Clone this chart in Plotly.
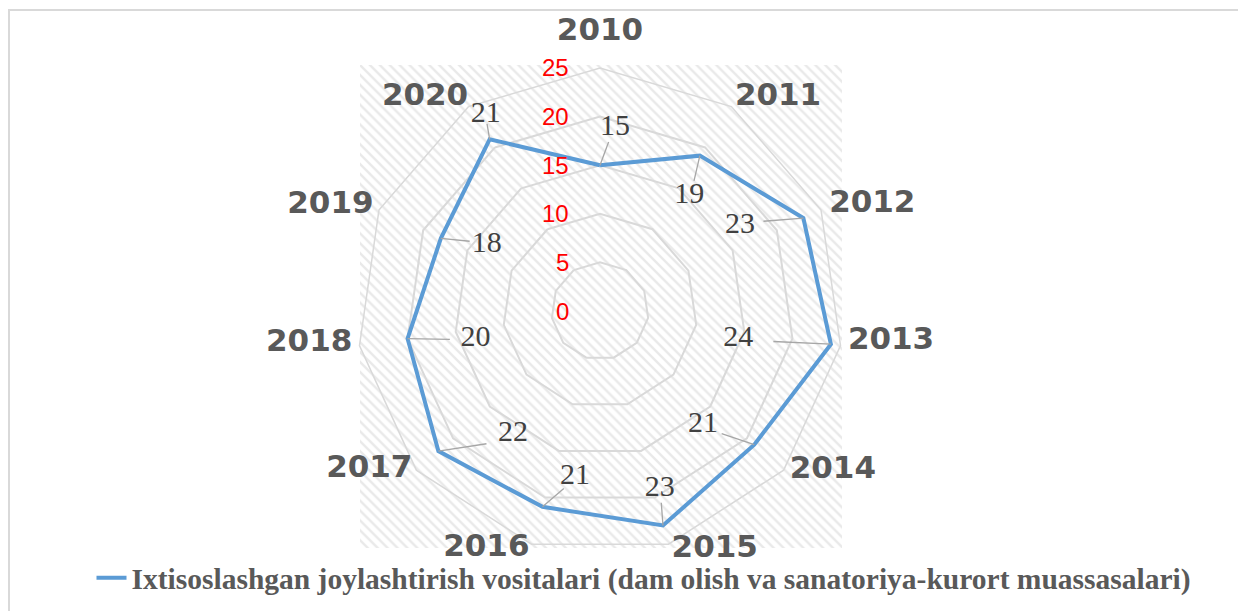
import plotly.graph_objects as go

# ---------------- data ----------------
years = ["2010", "2011", "2012", "2013", "2014", "2015", "2016", "2017", "2018", "2019", "2020"]
values = [15, 19, 23, 24, 21, 23, 21, 22, 20, 18, 21]
series_name = "Ixtisoslashgan joylashtirish vositalari (dam olish va sanatoriya-kurort muassasalari)"
radial_ticks = [0, 5, 10, 15, 20, 25]

# ---------------- style: label placement offsets ----------------
# data labels: radial offset (axis units) and angular offset (degrees)
label_dr = [3.9, -4.0, -6.15, -9.5, -5.2, -3.7, -3.8, -6.5, -6.9, -4.5, 2.4]
label_dtheta = [4.7, 5.0, -6.8, 2.9, 7.0, -2.2, -7.8, -13.8, -4.1, 5.8, 2.6]
leader_frac = 0.62
# category labels: radius (axis units) and angular offset (degrees)
cat_r = [28.7, 28.6, 30.1, 30.1, 29.0, 27.25, 27.1, 28.8, 30.1, 29.8, 28.4]
cat_dtheta = [0, 7.1, 3.1, -2.3, -6.6, -9.3, 9.2, 6.4, 1.9, -3.1, -6.6]
radial_label_gap = 3.0   # axis units left of the vertical axis

# page geometry (browser body margin of 8px offsets the figure)
OX, OY = 8, 8
W, H = 1246 - OX, 611 - OY


def px(x):
    return (x - OX) / W


def py(y):
    return 1 - (y - OY) / H


n = len(years)
step = 360.0 / n
theta = [i * step for i in range(n)]

RMAX = 25
RMAX_OUT = 30.5
cx, cy, R = 600, 311, 243
R_OUT = R * RMAX_OUT / RMAX
polar_domain = dict(x=[px(cx - R), px(cx + R)], y=[py(cy + R), py(cy - R)])
outer_domain = dict(x=[px(cx - R_OUT), px(cx + R_OUT)], y=[py(cy + R_OUT), py(cy - R_OUT)])

fig = go.Figure()

# hatched plot-area background
fig.add_trace(go.Scatter(
    x=[0, 1, 1, 0, 0], y=[0, 0, 1, 1, 0], mode="lines", fill="toself",
    line=dict(width=0), fillcolor="white",
    fillpattern=dict(shape="\\", fgcolor="#d4d4d4", bgcolor="white", size=7, solidity=0.35),
    hoverinfo="skip", showlegend=False, xaxis="x", yaxis="y"))

# main series (category polar -> polygon grid)
fig.add_trace(go.Scatterpolar(
    r=values + [values[0]], theta=years + [years[0]], mode="lines",
    line=dict(color="#5B9BD5", width=4), name=series_name, showlegend=True,
    subplot="polar"))

# leader lines (overlay polar with numeric angles)
lr, lt = [], []
for v, th, dr, dt in zip(values, theta, label_dr, label_dtheta):
    lr += [v, v + dr * leader_frac, None]
    lt += [th, th + dt * leader_frac, None]
fig.add_trace(go.Scatterpolar(r=lr, theta=lt, mode="lines",
                              line=dict(color="#a6a6a6", width=1.3),
                              hoverinfo="skip", showlegend=False, connectgaps=False,
                              subplot="polar2"))

# data labels
fig.add_trace(go.Scatterpolar(
    r=[v + d for v, d in zip(values, label_dr)],
    theta=[t + d for t, d in zip(theta, label_dtheta)],
    mode="text", text=[str(v) for v in values],
    textfont=dict(family="Liberation Serif", size=30, color="#404040"),
    textposition="middle center", hoverinfo="skip", showlegend=False,
    subplot="polar2", cliponaxis=False))

# category labels (on a larger overlay polar with the same scale)
fig.add_trace(go.Scatterpolar(
    r=cat_r, theta=[t + d for t, d in zip(theta, cat_dtheta)],
    mode="text", text=years,
    textfont=dict(family="DejaVu Sans", size=31, color="#595959", weight="bold"),
    textposition="middle center", hoverinfo="skip", showlegend=False,
    subplot="polar3", cliponaxis=False))

hidden_ang = dict(type="linear", rotation=90, direction="clockwise",
                  visible=False, showgrid=False, showline=False, ticks="")

fig.update_layout(
    width=W, height=H,
    margin=dict(l=0, r=0, t=0, b=0),
    paper_bgcolor="white", plot_bgcolor="rgba(0,0,0,0)",
    xaxis=dict(domain=[px(360), px(842)], range=[0, 1], visible=False, fixedrange=True),
    yaxis=dict(domain=[py(548), py(65)], range=[0, 1], visible=False, fixedrange=True),
    xaxis2=dict(domain=polar_domain["x"], range=[-RMAX, RMAX], visible=False, fixedrange=True,
                anchor="y2"),
    yaxis2=dict(domain=polar_domain["y"], range=[-RMAX, RMAX], visible=False, fixedrange=True,
                anchor="x2"),
    polar=dict(
        domain=polar_domain,
        bgcolor="rgba(0,0,0,0)",
        gridshape="linear",
        angularaxis=dict(
            type="category", categoryarray=years, rotation=90, direction="clockwise",
            showgrid=False, showline=True, linecolor="#d9d9d9", linewidth=1.5,
            ticks="", showticklabels=False,
        ),
        radialaxis=dict(
            range=[0, RMAX], tickmode="array", tickvals=radial_ticks,
            showticklabels=False, showline=False, ticks="", showgrid=True,
            gridcolor="#d9d9d9", gridwidth=1.5,
        ),
    ),
    polar2=dict(domain=polar_domain, bgcolor="rgba(0,0,0,0)", angularaxis=hidden_ang,
                radialaxis=dict(range=[0, RMAX], visible=False, showgrid=False, showline=False)),
    polar3=dict(domain=outer_domain, bgcolor="rgba(0,0,0,0)", angularaxis=hidden_ang,
                radialaxis=dict(range=[0, RMAX_OUT], visible=False, showgrid=False, showline=False)),
    annotations=[dict(x=-radial_label_gap, y=t, xref="x2", yref="y2", text=str(t),
                      showarrow=False, xanchor="right", yanchor="middle",
                      font=dict(family="Liberation Sans", size=24, color="#ff0000"))
                 for t in radial_ticks],
    legend=dict(orientation="h", x=px(644), xanchor="center", y=py(578), yanchor="middle",
                font=dict(family="Liberation Serif", size=29.5, color="#595959", weight="bold"),
                bgcolor="rgba(0,0,0,0)"),
    shapes=[dict(type="rect", xref="paper", yref="paper", x0=px(9), x1=1.02, y0=-0.02, y1=py(10),
                 line=dict(color="#d9d9d9", width=2), fillcolor="rgba(0,0,0,0)", layer="below")],
)

fig.write_html("out.html")
